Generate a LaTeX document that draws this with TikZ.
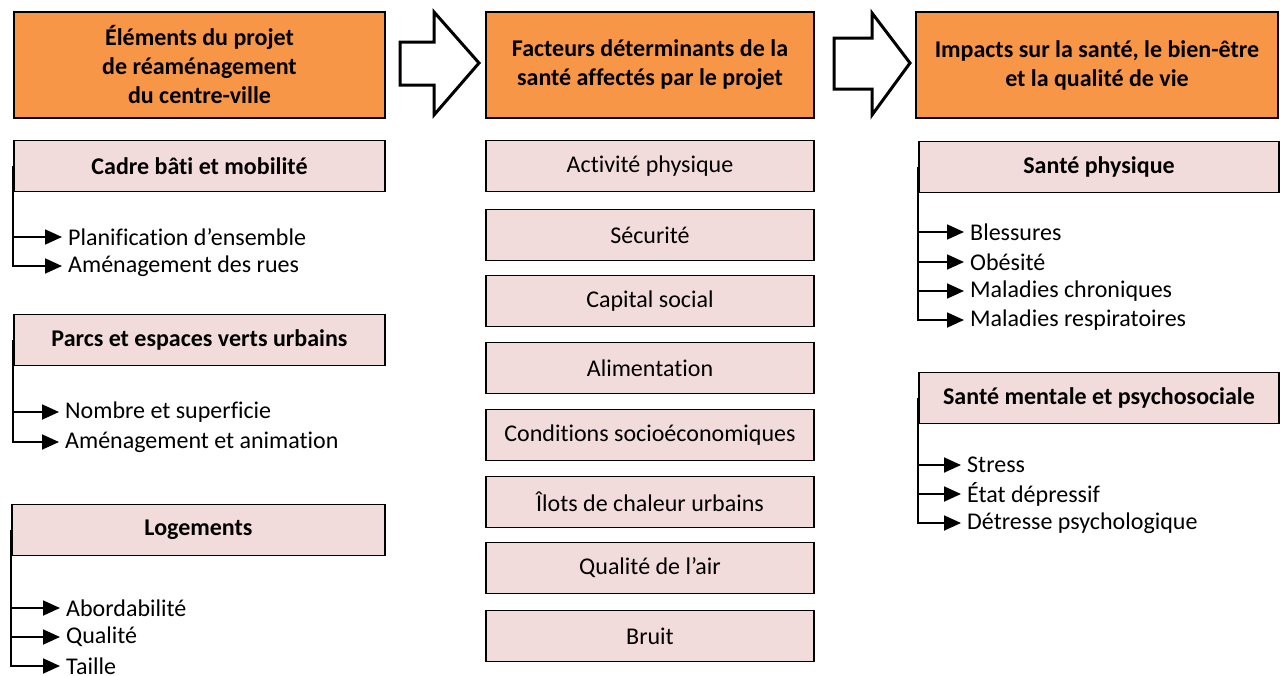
\documentclass[tikz,border=0pt]{standalone}
\usepackage{fontspec}
\setmainfont{Carlito}[Ligatures=NoCommon]
\usetikzlibrary{arrows.meta}
\definecolor{hdr}{HTML}{F79646}
\definecolor{sub}{HTML}{F2DCDB}
\tikzset{
  hdrbox/.style={draw=black, line width=1.8pt, fill=hdr, minimum height=106pt, align=center, font=\fontsize{24}{29}\selectfont\bfseries, inner sep=0pt},
  subbox/.style={draw=black, line width=1.8pt, fill=sub, minimum height=51pt, align=center, inner sep=0pt},
  subhead/.style={subbox, font=\fontsize{24}{28}\selectfont\bfseries},
  midbox/.style={subbox, minimum width=328pt, font=\fontsize{24}{28}\selectfont},
  item/.style={anchor=west, inner xsep=6pt, inner ysep=0pt, font=\fontsize{24}{28}\selectfont},
  arr/.style={line width=1.8pt, -{Triangle[length=17pt,width=15pt]}},
  bigarrow/.style={draw=black, line width=3pt, fill=white, line join=miter}
}
\begin{document}
\begin{tikzpicture}[x=1pt,y=-1pt]
\useasboundingbox (0,0) rectangle (1280,675);
% headers
\node[hdrbox, minimum width=371pt] (h1) at (199.5,65) {Éléments du projet\\de réaménagement\\du centre-ville};
\node[hdrbox, minimum width=328pt] (h2) at (650,65) {Facteurs déterminants de la\\santé affectés par le projet};
\node[hdrbox, minimum width=362pt] (h3) at (1097,65) {Impacts sur la santé, le bien-être\\et la qualité de vie};
% big arrows
\draw[bigarrow] (400,42) -- (434,42) -- (434,12) -- (479,63) -- (434,115) -- (434,85) -- (400,85) -- cycle;
\draw[bigarrow] (834,38) -- (872,38) -- (872,13) -- (910,63) -- (872,115) -- (872,89) -- (834,89) -- cycle;
% left column
\node[subhead, minimum width=371pt] (cadre) at (199.5,166) {Cadre bâti et mobilité};
\node[item] (plan) at (62,237) {Planification d’ensemble};
\node[item] (rues) at (62,266) {Aménagement des rues};
\draw[arr] (cadre.west) |- (plan.west);
\draw[arr] (cadre.west) |- (rues.west);

\node[subhead, minimum width=371pt] (parcs) at (199.5,340) {Parcs et espaces verts urbains};
\node[item] (nombre) at (59,412) {Nombre et superficie};
\node[item] (anim) at (59,442) {Aménagement et animation};
\draw[arr] (parcs.west) |- (nombre.west);
\draw[arr] (parcs.west) |- (anim.west);

\node[subhead, minimum width=373pt] (loge) at (198.5,530) {Logements};
\node[item] (abord) at (60,608) {Abordabilité};
\node[item] (qual) at (60,637) {Qualité};
\node[item] (taille) at (60,666) {Taille};
\draw[arr] (loge.west) |- (abord.west);
\draw[arr] (loge.west) |- (qual.west);
\draw[arr] (loge.west) |- (taille.west);
% middle column
\node[midbox] (m1) at (650,166) {Activité physique};
\node[midbox] (m2) at (650,235) {Sécurité};
\node[midbox] (m3) at (650,301) {Capital social};
\node[midbox] (m4) at (650,368) {Alimentation};
\node[midbox] (m5) at (650,435) {Conditions socioéconomiques};
\node[midbox] (m6) at (650,502) {Îlots de chaleur urbains};
\node[midbox] (m7) at (650,568) {Qualité de l’air};
\node[midbox] (m8) at (650,636) {Bruit};
% right column
\node[subhead, minimum width=360pt] (phys) at (1099,167) {Santé physique};
\node[item] (bless) at (964,232) {Blessures};
\node[item] (obes) at (964,262) {Obésité};
\node[item] (chron) at (964,291) {Maladies chroniques};
\node[item] (resp) at (964,320) {Maladies respiratoires};
\draw[arr] (phys.west) |- (bless.west);
\draw[arr] (phys.west) |- (obes.west);
\draw[arr] (phys.west) |- (chron.west);
\draw[arr] (phys.west) |- (resp.west);

\node[subhead, minimum width=360pt] (ment) at (1099,398) {Santé mentale et psychosociale};
\node[item] (stress) at (961,465) {Stress};
\node[item] (depr) at (961,494) {État dépressif};
\node[item] (detr) at (961,523) {Détresse psychologique};
\draw[arr] (ment.west) |- (stress.west);
\draw[arr] (ment.west) |- (depr.west);
\draw[arr] (ment.west) |- (detr.west);
\end{tikzpicture}
\end{document}
